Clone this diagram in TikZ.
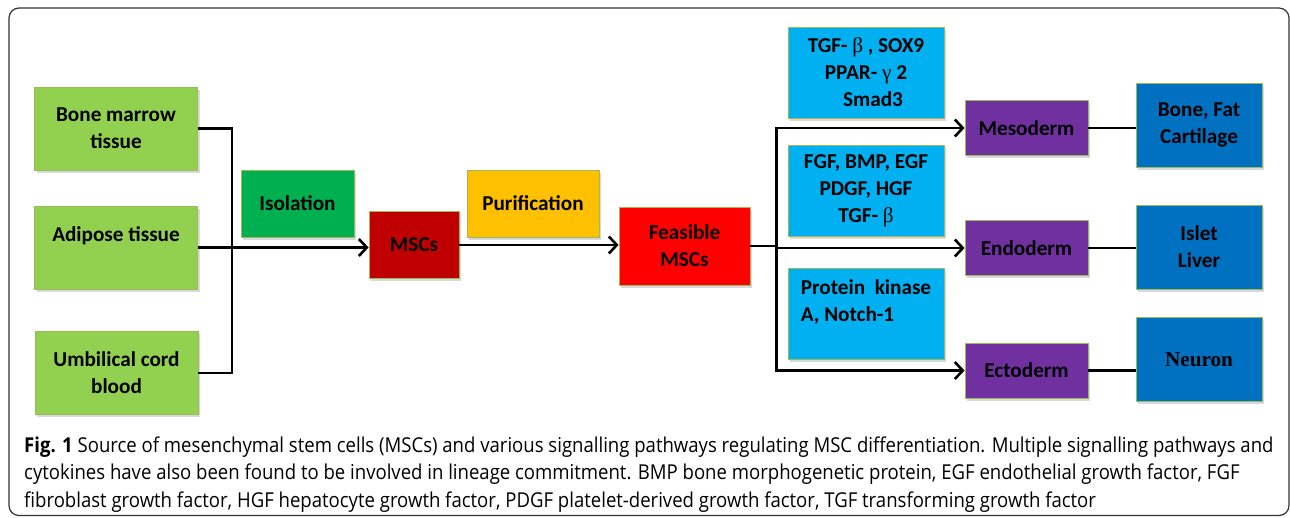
\documentclass[tikz,border=0pt]{standalone}
\usepackage{fontspec}
\setmainfont{Carlito}
\newfontfamily\capfont{Open Sans}[FakeStretch=0.905]
\newfontfamily\serffont{Liberation Serif}
\usepackage{xcolor}
\usetikzlibrary{arrows.meta,shadows}
\definecolor{srcgreen}{HTML}{92D050}
\definecolor{isogreen}{HTML}{00B050}
\definecolor{mscred}{HTML}{C00000}
\definecolor{purorange}{HTML}{FFC000}
\definecolor{feared}{HTML}{FF0000}
\definecolor{factblue}{HTML}{00B0F0}
\definecolor{layerpurple}{HTML}{7030A0}
\definecolor{fateblue}{HTML}{0070C0}
\definecolor{boxedge}{HTML}{9BBB59}
\newcommand{\gk}[1]{{\serffont\mdseries #1}}
\tikzset{%
	basebox/.style   = {draw=boxedge, line width=0.8pt, rectangle, align=center, font=\bfseries\fontsize{21.2}{27}\selectfont, drop shadow={shadow xshift=2pt, shadow yshift=-2.5pt, opacity=0.3}},
	srcbox/.style    = {basebox, fill=srcgreen, minimum width=163pt, minimum height=83pt},
	stepbox/.style   = {basebox, minimum height=67pt},
	cellbox/.style   = {basebox, minimum height=67pt},
	factorbox/.style = {basebox, fill=factblue, minimum width=156pt, minimum height=91pt},
	layerbox/.style  = {basebox, fill=layerpurple, minimum width=123pt, minimum height=55pt},
	fatebox/.style   = {basebox, fill=fateblue, minimum width=126pt, minimum height=84pt},
	link/.style      = {line width=2.6pt},
	arrow/.style     = {link, -{Straight Barb[length=8pt,width=17pt]}},
}
\begin{document}
\begin{tikzpicture}[x=1pt,y=-1pt]
	\useasboundingbox (0,0) rectangle (1290,517);
	\draw[line width=1.2pt, black!80, rounded corners=10pt] (9,8) rectangle (1289,515.5); % frame

	% sources
	\node[srcbox] (bm)  at (116,128.5) {Bone marrow\\tissue};
	\node[srcbox] (adi) at (116,247.5) {Adipose tissue\\\mbox{}};
	\node[srcbox] (umb) at (116.5,373) {Umbilical cord\\blood};

	% isolation and purification
	\node[stepbox, fill=isogreen, minimum width=113pt] (iso) at (297.5,203.5) {Isolation};
	\node[cellbox, fill=mscred, minimum width=90pt] (msc) at (414,245) {MSCs};
	\node[stepbox, fill=purorange, minimum width=132pt] (pur) at (533,203.5) {Purification};
	\node[cellbox, fill=feared, minimum width=131pt, minimum height=78pt] (fea) at (684.5,246) {Feasible\\MSCs};

	% signalling factors
	\node[factorbox] (tgf) at (866,72.5) {TGF- \gk{β} , SOX9\\PPAR- \gk{γ} 2\\\hspace*{14pt}Smad3};
	\node[factorbox] (fgf) at (866,191) {FGF, BMP, EGF\\PDGF, HGF\\TGF- \gk{β}};
	\node[factorbox, align=left] (pk) at (866,314) {Protein\ \ kinase\\A, Notch-1\\\mbox{}};

	% germ layers
	\node[layerbox] (meso) at (1026.5,128) {Mesoderm};
	\node[layerbox] (endo) at (1026.5,248) {Endoderm};
	\node[layerbox] (ecto) at (1026.5,370.5) {Ectoderm};

	% lineages
	\node[fatebox] (bone)   at (1199,125) {Bone, Fat\\Cartilage};
	\node[fatebox] (islet)  at (1199,247) {Islet\\Liver};
	\node[fatebox, font=\serffont\bfseries\fontsize{21.2}{27}\selectfont] (neuron) at (1199,359.5) {Neuron};

	% connectors
	\coordinate (join) at (232,248);
	\draw[link] (bm.east) -| (join) |- (umb.east);
	\draw[arrow] (adi.east) -- (adi.east -| msc.west);
	\draw[arrow] (msc.east) -- (msc.east -| fea.west);
	\path (fea.east) ++(26,0) coordinate (split);
	\draw[link] (fea.east) -- (split);
	\draw[arrow] (split) |- (meso.west);
	\draw[arrow] (split) |- (endo.west);
	\draw[arrow] (split) |- (ecto.west);
	\draw[link] (meso.east) -- (meso.east -| bone.west);
	\draw[link] (endo.east) -- (endo.east -| islet.west);
	\draw[link] (ecto.east) -- (ecto.east -| neuron.west);

	% caption
	\node[anchor=base west, align=left, inner sep=0pt, font=\capfont\fontsize{20.5}{27.5}\selectfont] (cap) at (24,507)
		{\textbf{Fig. 1} Source of mesenchymal stem cells (MSCs) and various signalling pathways regulating MSC differentiation. Multiple signalling pathways and\\
		cytokines have also been found to be involved in lineage commitment. BMP bone morphogenetic protein, EGF endothelial growth factor, FGF\\
		fibroblast growth factor, HGF hepatocyte growth factor, PDGF platelet-derived growth factor, TGF transforming growth factor};
\end{tikzpicture}
\end{document}
